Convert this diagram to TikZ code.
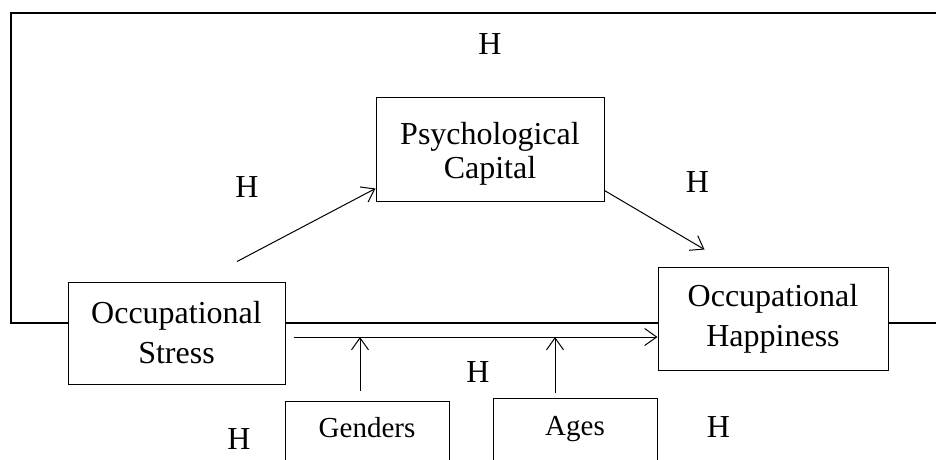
\documentclass[tikz,border=0pt]{standalone}
\usepackage{fontspec}
\setmainfont{Liberation Serif}
\usetikzlibrary{arrows.meta,calc}
\begin{document}
\begin{tikzpicture}[x=1pt,y=-1pt,
  frameline/.style={line width=2.7pt},
  varbox/.style={draw,line width=1pt,fill=white,inner sep=0pt,align=center,
    font=\fontsize{32}{40}\selectfont},
  vartext/.style={inner sep=0pt,align=center,font=\fontsize{32}{34}\selectfont},
  ctrlbox/.style={draw,line width=1pt,fill=white,inner sep=0pt},
  ctrltext/.style={font=\fontsize{29}{35}\selectfont,anchor=base,inner sep=0pt},
  hyp/.style={font=\fontsize{32}{38}\selectfont,inner sep=0pt},
  effect/.style={line width=1pt,-{Straight Barb[length=12pt,width=17pt,line width=1pt]}}
]
\useasboundingbox (0,0) rectangle (936,459);
\clip (0,0) rectangle (936,459);

% outer frame (open on the right, runs behind the two main boxes)
\coordinate (fbl) at (11,323);
\coordinate (ftl) at (11,13);
\coordinate (ftr) at (945,13);
\coordinate (fbr) at (945,323);
\draw[frameline] (fbr) -- (fbl) -- (ftl) -- (ftr);

% variables
\node[varbox,minimum width=217pt,minimum height=102pt] (stress) at (176.5,333)
  {Occupational\\Stress};
\node[varbox,minimum width=230pt,minimum height=103pt] (happy) at (773,318.5)
  {Occupational\\Happiness};
\node[varbox,minimum width=228pt,minimum height=104pt] (psych) at (490,149) {};
\node[vartext] (psychtxt) at ($(psych.center)+(0,5)$) {Psychological\\Capital};

% control variables (boxes run past the lower edge)
\node[ctrlbox,minimum width=164pt,minimum height=90pt] (genbox) at (367,446) {};
\node[ctrltext] (gentxt) at (367,437) {Genders};
\node[ctrlbox,minimum width=164pt,minimum height=92pt] (agebox) at (575,444) {};
\node[ctrltext] (agetxt) at (575,435) {Ages};

% paths
\coordinate (hstart) at ($(stress.east)+(8,4)$);
\coordinate (hend) at ($(happy.west)+(0,18.5)$);
\draw[effect] (hstart) -- (hend);
\draw[effect] ($(stress.north)+(60.5,-20)$) -- ($(psych.south west)+(0,-13)$);
\draw[effect] ($(psych.south east)+(0,-11)$) -- ($(happy.north west)+(47,-17)$);
\coordinate (gstart) at ($(genbox.north)+(-7,-10)$);
\coordinate (astart) at ($(agebox.north)+(-20,-5)$);
\draw[effect] (gstart) -- (gstart |- hstart);
\draw[effect] (astart) -- (astart |- hstart);

% hypothesis labels
\node[hyp] (h1) at (490,44.5) {H};
\node[hyp] (h2) at (247,187) {H};
\node[hyp] (h3) at (697.5,182.5) {H};
\node[hyp] (h4) at (478,372) {H};
\node[hyp] (h5) at (239,439.5) {H};
\node[hyp] (h6) at (718.5,427.5) {H};
\end{tikzpicture}
\end{document}
